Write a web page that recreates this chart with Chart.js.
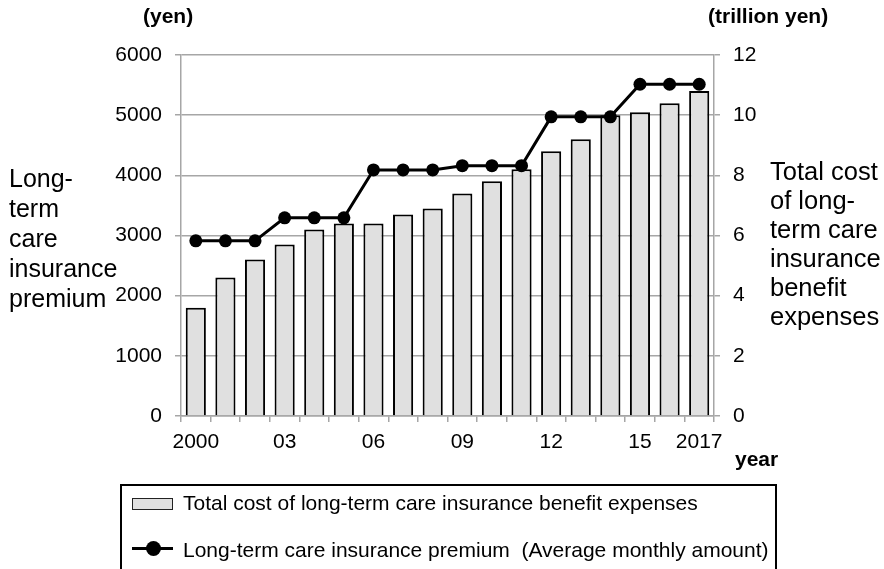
<!DOCTYPE html>
<html><head><meta charset="utf-8">
<script src="https://cdn.jsdelivr.net/npm/chart.js@4"></script>
<style>
html,body{margin:0;padding:0;background:#fff;}
#wrap{position:relative;width:884px;height:569px;overflow:hidden;font-family:"Liberation Sans",Arial,sans-serif;color:#000;}
#c{position:absolute;left:0;top:0;}
.t{position:absolute;white-space:nowrap;}
.b{font-weight:bold;font-size:21px;line-height:21px;}
#ltitle{left:9px;top:163px;font-size:25px;line-height:30px;}
#rtitle{left:770px;top:157px;font-size:25.5px;line-height:29px;}
#legend{position:absolute;left:120px;top:484px;width:657px;height:120px;border:2px solid #000;box-sizing:border-box;}
.li{position:absolute;font-size:21px;line-height:21px;white-space:nowrap;}
.sw{position:absolute;background:#e0e0e0;border:1.5px solid #222;box-sizing:border-box;}
.ln{position:absolute;background:#000;}
.dot{position:absolute;background:#000;border-radius:50%;}
</style></head><body>
<div id="wrap">
<canvas id="c" width="884" height="569"></canvas>
<div class="t b" style="left:143px;top:5px">(yen)</div>
<div class="t b" style="left:708px;top:5px">(trillion yen)</div>
<div class="t b" style="left:735px;top:448px">year</div>
<div class="t" id="ltitle">Long-<br>term<br>care<br>insurance<br>premium</div>
<div class="t" id="rtitle">Total cost<br>of long-<br>term care<br>insurance<br>benefit<br>expenses</div>
<div id="legend"></div>
<div class="sw" style="left:132px;top:498px;width:41px;height:12px"></div>
<div class="li" style="left:183px;top:492px">Total cost of long-term care insurance benefit expenses</div>
<div class="ln" style="left:132px;top:547px;width:41px;height:3px"></div>
<div class="dot" style="left:145.5px;top:541px;width:15px;height:15px"></div>
<div class="li" style="left:183px;top:539px">Long-term care insurance premium&nbsp;&nbsp;(Average monthly amount)</div>
</div>
<script>
const years = [2000,2001,2002,2003,2004,2005,2006,2007,2008,2009,2010,2011,2012,2013,2014,2015,2016,2017];
const yearTickLabels = ['2000','','','03','','','06','','','09','','','12','','','15','','2017'];
// Total cost of long-term care insurance benefit expenses (trillion yen)
const benefitCost = [3.6,4.6,5.2,5.7,6.2,6.4,6.4,6.7,6.9,7.4,7.8,8.2,8.8,9.2,10.0,10.1,10.4,10.8];
// Long-term care insurance premium, average monthly amount (yen)
const premium = [2911,2911,2911,3293,3293,3293,4090,4090,4090,4160,4160,4160,4972,4972,4972,5514,5514,5514];
const yenAxis = {min:0, max:6000, step:1000};
const trillionAxis = {min:0, max:12, step:2};

const GRID = '#a6a6a6';
const FONT = {family:'"Liberation Sans", Arial, sans-serif', size:21};

new Chart(document.getElementById('c'), {
  data: {
    labels: years,
    datasets: [
      {type:'line', label:'Long-term care insurance premium (Average monthly amount)', data:premium, yAxisID:'y',
       borderColor:'#000', borderWidth:3, pointRadius:6.5, pointBackgroundColor:'#000', pointBorderWidth:0,
       tension:0, order:0},
      {type:'bar', label:'Total cost of long-term care insurance benefit expenses', data:benefitCost, yAxisID:'y1',
       backgroundColor:'#e0e0e0', borderColor:'#000', borderWidth:2, borderSkipped:'start',
       categoryPercentage:1, barPercentage:0.68, order:1}
    ]
  },
  options: {
    responsive:false, animation:false, devicePixelRatio:1,
    layout:{padding:{top:55,left:0,right:0,bottom:0}},
    plugins:{legend:{display:false}, tooltip:{enabled:false}},
    scales:{
      x:{type:'category', offset:true,
         grid:{offset:true, drawOnChartArea:false, drawTicks:true, tickLength:6, color:GRID, lineWidth:1.5},
         border:{display:true, color:GRID, width:1.5},
         ticks:{autoSkip:false, maxRotation:0, minRotation:0, color:'#000', font:FONT, padding:8,
                callback:(v,i)=>yearTickLabels[i]},
         afterFit:(s)=>{s.height=153;}},
      y:{position:'left', min:yenAxis.min, max:yenAxis.max,
         ticks:{stepSize:yenAxis.step, color:'#000', font:FONT, padding:13, callback:(v)=>String(v)},
         grid:{color:GRID, lineWidth:1.5, tickLength:6},
         border:{display:true, color:GRID, width:1.5},
         afterFit:(s)=>{s.width=181;}},
      y1:{position:'right', min:trillionAxis.min, max:trillionAxis.max,
         ticks:{stepSize:trillionAxis.step, color:'#000', font:FONT, padding:13, callback:(v)=>String(v)},
         grid:{drawOnChartArea:false, color:GRID, lineWidth:1.5, tickLength:6},
         border:{display:true, color:GRID, width:1.5},
         afterFit:(s)=>{s.width=170;}}
    }
  }
});
</script>
</body></html>
